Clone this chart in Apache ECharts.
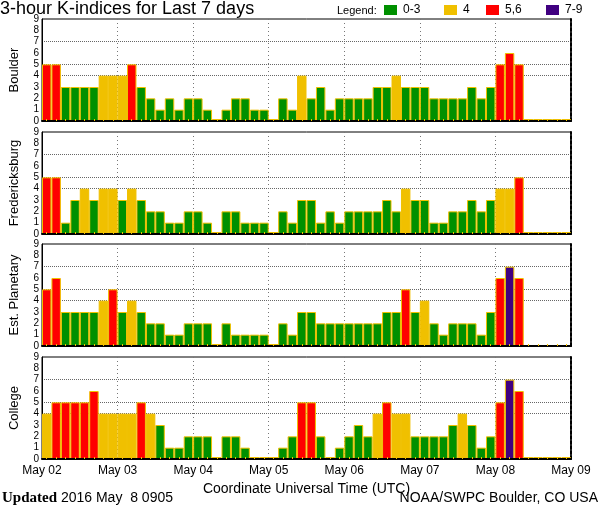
<!DOCTYPE html>
<html><head><meta charset="utf-8">
<script src="https://cdn.jsdelivr.net/npm/echarts@6/dist/echarts.min.js"></script>
<style>html,body{margin:0;padding:0;background:#fff}#c{width:600px;height:510px}</style>
</head><body><div id="c"></div>
<script>
// ---- data ----
const dayLabels = ['May 02','May 03','May 04','May 05','May 06','May 07','May 08','May 09'];
const stations = ['Boulder','Fredericksburg','Est. Planetary','College'];
const yTicks = [0,1,2,3,4,5,6,7,8,9];
const refLevels = [4,5,7];
const boulder = [5,5,3,3,3,3,4,4, 4,5,3,2,1,2,1,2, 2,1,0,1,2,2,1,1, 0,2,1,4,2,3,1,2, 2,2,2,3,3,4,3,3, 3,2,2,2,2,3,2,3, 5,6,5,0,0,0,0,0];
const fredericksburg = [5,5,1,3,4,3,4,4, 3,4,3,2,2,1,1,2, 2,1,0,2,2,1,1,1, 0,2,1,3,3,1,2,1, 2,2,2,2,3,2,4,3, 3,1,1,2,2,3,2,3, 4,4,5,0,0,0,0,0];
const estPlanetary = [5,6,3,3,3,3,4,5, 3,4,3,2,2,1,1,2, 2,2,0,2,1,1,1,1, 0,2,1,3,3,2,2,2, 2,2,2,2,3,3,5,3, 4,2,1,2,2,2,1,3, 6,7,6,null,null,null,null,null];
const college = [4,5,5,5,5,6,4,4, 4,4,5,4,3,1,1,2, 2,2,0,2,2,1,0,0, 0,1,2,5,5,2,0,1, 2,3,2,4,5,4,4,2, 2,2,2,3,4,3,1,2, 5,7,6,0,0,0,0,0];
const legendLabels = ['0-3','4','5,6','7-9'];
const xTitle = 'Coordinate Universal Time (UTC)';
const titleText = '3-hour K-indices for Last 7 days';
const updatedText = '2016 May  8 0905';
const creditText = 'NOAA/SWPC Boulder, CO USA';

// ---- styling ----
const GREEN = '#009000', GOLD = '#f0c000', RED = '#ff0000', PURPLE = '#400080';
const legendColors = [GREEN, GOLD, RED, PURPLE];
const FONT = 'Liberation Sans';
const gridTops = [19, 132, 244, 357];
const gridH = 102;
const stationData = [boulder, fredericksburg, estPlanetary, college];

const slots = [];
for (let d = 0; d < 7; d++) for (let h = 0; h < 8; h++) slots.push(dayLabels[d] + ' ' + String(h * 3).padStart(2, '0'));

function kColor(v) {
  if (v <= 3) return GREEN;
  if (v === 4) return GOLD;
  if (v <= 6) return RED;
  return PURPLE;
}
const G = '#666', T = 'rgba(0,0,0,0)';
const hLineColors = yTicks.map(v => (refLevels.indexOf(v) >= 0 ? G : T));

const grids = [], xAxes = [], yAxes = [], seriesOpts = [];
stationData.forEach((vals, i) => {
  grids.push({left: 36, right: 29, top: gridTops[i], height: gridH, show: true, borderColor: '#000', borderWidth: 1});
  xAxes.push({
    type: 'category', gridIndex: i, position: 'bottom', data: slots, boundaryGap: true, z: 3,
    axisLine: {show: true, lineStyle: {color: '#000', width: 2}},
    axisTick: {show: true, inside: true, alignWithLabel: true, interval: 0, length: 2, lineStyle: {color: GOLD, width: 1}},
    axisLabel: {show: false}, splitLine: {show: false}
  });
  xAxes.push({
    type: 'value', gridIndex: i, position: 'bottom', min: 0, max: 56, interval: 8,
    axisLine: {show: false}, axisTick: {show: false},
    axisLabel: {show: i === 3, margin: 6, fontFamily: FONT, fontSize: 12, color: '#000',
      formatter: v => dayLabels[v / 8]},
    splitLine: {show: true, showMinLine: false, showMaxLine: false, lineStyle: {color: '#777', type: [1, 3], width: 1}},
    name: i === 3 ? xTitle : '', nameLocation: 'middle', nameGap: 23,
    nameTextStyle: {fontFamily: FONT, fontSize: 14, color: '#000'}
  });
  yAxes.push({
    type: 'value', gridIndex: i, position: 'left', min: 0, max: 9, interval: 1,
    axisLine: {show: true, lineStyle: {color: '#000', width: 1}}, axisTick: {show: false},
    axisLabel: {show: true, margin: 3, fontFamily: FONT, fontSize: 10, color: '#000',
      formatter: v => String(yTicks[v])},
    splitLine: {show: true, lineStyle: {color: hLineColors, type: 'dotted', width: 1}},
    name: stations[i], nameLocation: 'middle', nameRotate: 90, nameGap: 21,
    nameTextStyle: {fontFamily: FONT, fontSize: 13, color: '#000'}
  });
  yAxes.push({
    type: 'value', gridIndex: i, position: 'right', min: 0, max: 9,
    axisLine: {show: true, lineStyle: {color: '#000', width: 2, type: [3, 2]}}, axisTick: {show: false},
    axisLabel: {show: false}, splitLine: {show: false}
  });
  seriesOpts.push({
    type: 'bar', xAxisIndex: i * 2, yAxisIndex: i * 2, data: vals, z: 2,
    barCategoryGap: '0%', barMinHeight: 2, silent: true,
    itemStyle: {color: p => kColor(p.value), borderColor: GOLD, borderWidth: 1}
  });
});

const legendGraphic = [{type: 'text', left: 337, top: 5, style: {text: 'Legend:', font: '11px ' + FONT, fill: '#000'}}];
const legX = [384, 444, 486, 546];
legendLabels.forEach((lab, k) => {
  legendGraphic.push({type: 'rect', shape: {x: legX[k], y: 5, width: 13, height: 10}, style: {fill: legendColors[k]}});
  legendGraphic.push({type: 'text', left: legX[k] + 19, top: 4, style: {text: lab, font: '12px ' + FONT, fill: '#000'}});
});

const chart = echarts.init(document.getElementById('c'), null, {renderer: 'canvas'});
chart.setOption({
  animation: false,
  backgroundColor: '#fff',
  title: {text: titleText, left: 0, top: 0, padding: 0,
    textStyle: {fontFamily: FONT, fontSize: 18, fontWeight: 'normal', color: '#000'}},
  grid: grids, xAxis: xAxes, yAxis: yAxes, series: seriesOpts,
  graphic: legendGraphic.concat([
    {type: 'text', left: 2, top: 491, style: {
      text: '{b|Updated} ' + updatedText,
      font: '14px ' + FONT, fill: '#000',
      rich: {b: {fontFamily: 'Liberation Serif', fontWeight: 'bold', fontSize: 15, fill: '#000'}}}},
    {type: 'text', right: 2, top: 491, style: {text: creditText, font: '14px ' + FONT, fill: '#000'}}
  ])
});
</script></body></html>
